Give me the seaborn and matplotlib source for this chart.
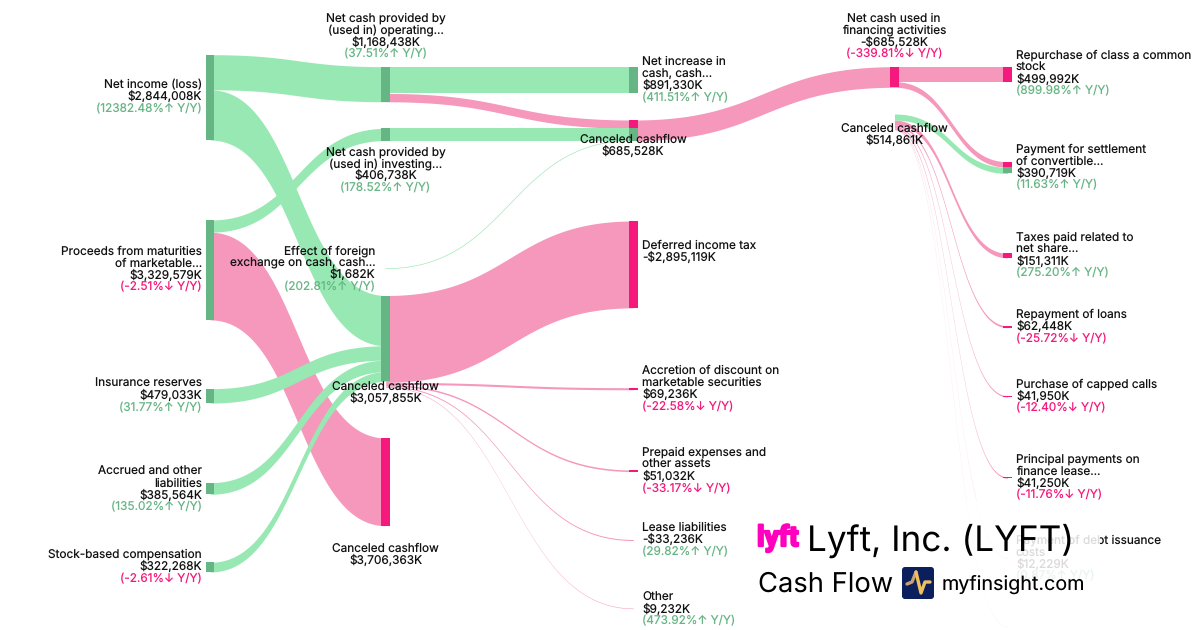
import numpy as np
import seaborn as sns
import matplotlib.pyplot as plt
from matplotlib.patches import FancyBboxPatch, Rectangle
import matplotlib.patheffects as pe

sns.set_theme(style="white")
plt.rcParams['font.family'] = ['Inter', 'DejaVu Sans']
plt.rcParams['text.hinting'] = 'no_hinting'

GREEN = "#98e8b3"
PINK = "#f598bc"
DARK_GREEN = "#66b584"
DARK_PINK = "#f5197d"
TEXT = "#111111"

# pixels per thousand dollars
PX_PER_K = 0.00003

# nodes
node_names = [
    "net_income", "proceeds", "insurance", "accrued", "stock",
    "operating", "investing", "foreign", "canceled_a", "canceled_b",
    "net_increase", "canceled_c", "deferred", "accretion", "prepaid", "lease", "other",
    "financing", "canceled_d",
    "repurchase", "settlement", "taxes", "repayment", "capped", "principal", "debt", "rest",
]

# links
link_sources = [
    "net_income", "net_income", "proceeds", "proceeds", "insurance", "accrued", "stock",
    "operating", "operating", "investing", "foreign", "canceled_c",
    "canceled_a", "canceled_a", "canceled_a", "canceled_a", "canceled_a",
    "financing", "financing", "canceled_d", "canceled_d", "canceled_d", "canceled_d",
    "canceled_d", "canceled_d", "canceled_d",
]
link_targets = [
    "operating", "canceled_a", "investing", "canceled_b", "canceled_a", "canceled_a", "canceled_a",
    "net_increase", "canceled_c", "canceled_c", "canceled_c", "financing",
    "deferred", "accretion", "prepaid", "lease", "other",
    "repurchase", "settlement", "settlement", "taxes", "repayment", "capped",
    "principal", "debt", "rest",
]
link_values = [
    1168438, 1675570, 406738, 2922841, 479033, 385564, 322268,
    891330, 277108, 406738, 1682, 685528,
    2895119, 69236, 51032, 33236, 9232,
    499992, 185536, 205183, 151311, 62448, 41950,
    41250, 12229, 490,
]
link_kinds = [
    "g", "g", "g", "p", "g", "g", "g",
    "g", "p", "g", "g", "p",
    "p", "p", "p", "p", "p",
    "p", "p", "g", "p", "p", "p",
    "p", "p", "p",
]

# labels
label_names = [
    ["Net income (loss)"],
    ["Proceeds from maturities", "of marketable..."],
    ["Insurance reserves"],
    ["Accrued and other", "liabilities"],
    ["Stock-based compensation"],
    ["Net cash provided by", "(used in) operating..."],
    ["Net cash provided by", "(used in) investing..."],
    ["Effect of foreign", "exchange on cash, cash..."],
    ["Canceled cashflow"],
    ["Canceled cashflow"],
    ["Net increase in", "cash, cash..."],
    ["Canceled cashflow"],
    ["Deferred income tax"],
    ["Accretion of discount on", "marketable securities"],
    ["Prepaid expenses and", "other assets"],
    ["Lease liabilities"],
    ["Other"],
    ["Net cash used in", "financing activities"],
    ["Canceled cashflow"],
    ["Repurchase of class a common", "stock"],
    ["Payment for settlement", "of convertible..."],
    ["Taxes paid related to", "net share..."],
    ["Repayment of loans"],
    ["Purchase of capped calls"],
    ["Principal payments on", "finance lease..."],
    ["Payment of debt issuance", "costs"],
]
label_values = [
    "$2,844,008K", "$3,329,579K", "$479,033K", "$385,564K", "$322,268K",
    "$1,168,438K", "$406,738K", "$1,682K", "$3,057,855K", "$3,706,363K",
    "$891,330K", "$685,528K", "-$2,895,119K", "$69,236K", "$51,032K", "-$33,236K", "$9,232K",
    "-$685,528K", "$514,861K",
    "$499,992K", "$390,719K", "$151,311K", "$62,448K", "$41,950K", "$41,250K", "$12,229K",
]
label_changes = [
    "(12382.48%↑ Y/Y)", "(-2.51%↓ Y/Y)", "(31.77%↑ Y/Y)", "(135.02%↑ Y/Y)", "(-2.61%↓ Y/Y)",
    "(37.51%↑ Y/Y)", "(178.52%↑ Y/Y)", "(202.81%↑ Y/Y)", None, None,
    "(411.51%↑ Y/Y)", None, None, "(-22.58%↓ Y/Y)", "(-33.17%↓ Y/Y)", "(29.82%↑ Y/Y)", "(473.92%↑ Y/Y)",
    "(-339.81%↓ Y/Y)", None,
    "(899.98%↑ Y/Y)", "(11.63%↑ Y/Y)", "(275.20%↑ Y/Y)", "(-25.72%↓ Y/Y)", "(-12.40%↓ Y/Y)",
    "(-11.76%↓ Y/Y)", "(0.87%↑ Y/Y)",
]

# layout, in pixels
node_x = dict(zip(node_names, [210] * 5 + [385.7] * 5 + [633.3] * 7 + [894.5] * 2 + [1007.5] * 8))
node_top = dict(zip(node_names, [
    54.7, 220, 388.7, 482.7, 562.3,
    66.7, 128.3, 268.6, 295.5, 438,
    66.7, 120, 221, 387.7, 470, 539.5, 608.2,
    66.7, 114,
    66.7, 161.7, 253.3, 325.8, 395.7, 477, 558, 626.6,
]))
NODE_W = 8.6
label_x = [202] * 5 + [385.5, 385.5, 375.5, 385.5, 385.5, 642, 633, 642, 642, 642, 642, 642, 894, 894] + [1016] * 7
label_ha = ["right"] * 5 + ["center", "center", "right", "center", "center", "left", "center"] \
    + ["left"] * 5 + ["center", "center"] + ["left"] * 7
label_y = [84, 250.5, 383, 470.3, 553.7, 17.5, 151, 250, 386, 548, 61, 139, 245, 370, 451.7,
           526.7, 596.3, 17.5, 128, 54.5, 148.5, 236.5, 313.7, 383.5, 458.5, 539.5]

fig = plt.figure(figsize=(12, 6.3), dpi=100)
ax = fig.add_axes([0, 0, 1, 1])

out_used = {n: 0.0 for n in node_names}
in_used = {n: 0.0 for n in node_names}
links = []
for s, t, v, k in zip(link_sources, link_targets, link_values, link_kinds):
    w = v * PX_PER_K
    y0 = node_top[s] + out_used[s] + w / 2
    y1 = node_top[t] + in_used[t] + w / 2
    out_used[s] += w
    in_used[t] += w
    links.append((s, t, w, k, y0, y1))

t_s = np.linspace(0, 1, 200)
# pink first, the green ribbons sit on top of it
for s, t, w, k, y0, y1 in sorted(links, key=lambda l: l[3] == "g"):
    x0, x1 = node_x[s], node_x[t]
    xm = (x0 + x1) / 2
    xs = (1 - t_s)**3 * x0 + 3 * (1 - t_s)**2 * t_s * xm + 3 * (1 - t_s) * t_s**2 * xm + t_s**3 * x1
    ys = (1 - t_s)**3 * y0 + 3 * (1 - t_s)**2 * t_s * y0 + 3 * (1 - t_s) * t_s**2 * y1 + t_s**3 * y1
    col = GREEN if k == "g" else PINK
    if k == "g" and w < 0.1:
        # the foreign exchange hairline would vanish as a filled area
        sns.lineplot(x=xs, y=ys, ax=ax, sort=False, estimator=None, color=col,
                     linewidth=0.45, solid_capstyle="butt", zorder=2)
    else:
        h = max(w, 0.5) / 2
        ax.fill_between(xs, ys - h, ys + h, color=col, lw=0, zorder=2)

# nodes: incoming stacks take the link colour, pure sources are green
in_pos = {n: 0.0 for n in node_names}
for s, t, w, k, y0, y1 in links:
    ax.add_patch(Rectangle((node_x[t] - NODE_W / 2, node_top[t] + in_pos[t]), NODE_W, w,
                           color=DARK_GREEN if k == "g" else DARK_PINK, lw=0, zorder=3))
    in_pos[t] += w
out_pos = {n: 0.0 for n in node_names}
for s, t, w, k, y0, y1 in links:
    if in_used[s] == 0 and s != "canceled_d":
        ax.add_patch(Rectangle((node_x[s] - NODE_W / 2, node_top[s] + out_pos[s]), NODE_W, w,
                               color=DARK_GREEN, lw=0, zorder=3))
    out_pos[s] += w

# labels
for names, val, chg, x, ha, y in zip(label_names, label_values, label_changes, label_x, label_ha, label_y):
    lines = [(n, TEXT) for n in names] + [(val, TEXT)]
    if chg:
        lines.append((chg, DARK_PINK if "↓" in chg else DARK_GREEN))
    for i, (txt, col) in enumerate(lines):
        ax.text(x, y + 4.3 + i * 12, txt, ha=ha, va="baseline", fontsize=8.5, color=col, zorder=4)

# white card under the title
ax.add_patch(Rectangle((750, 500), 350, 130, color="white", alpha=0.85, lw=0, zorder=5))

ax.text(757, 546, "lyft", fontsize=20.5, family=["Roboto"], fontweight="bold", color="#ff00bf",
        ha="left", va="baseline", zorder=6,
        path_effects=[pe.withStroke(linewidth=1.6, foreground="#ff00bf")])
ax.text(807, 551, "Lyft, Inc. (LYFT)", fontsize=25.3, color="black", ha="left", va="baseline", zorder=6)
ax.text(757.5, 592, "Cash Flow", fontsize=19.7, color="black", ha="left", va="baseline", zorder=6)
ax.text(942, 590, "myfinsight.com", fontsize=14.2, color="black", ha="left", va="baseline", zorder=6)

ax.add_patch(FancyBboxPatch((904, 569), 28, 28, boxstyle="round,pad=2,rounding_size=3",
                            color="#0a1f5c", lw=0, zorder=6))
sns.lineplot(x=[907, 912, 916], y=[584, 582, 572], ax=ax, sort=False, estimator=None,
             color="#c9a070", linewidth=2.4, zorder=7)
sns.lineplot(x=[916, 921, 925, 930], y=[572, 593, 582, 582], ax=ax, sort=False, estimator=None,
             color="#efc060", linewidth=2.4, zorder=7)

ax.set_xlim(0, 1200)
ax.set_ylim(630, 0)
ax.axis("off")

fig.savefig("out.png", dpi=100)
